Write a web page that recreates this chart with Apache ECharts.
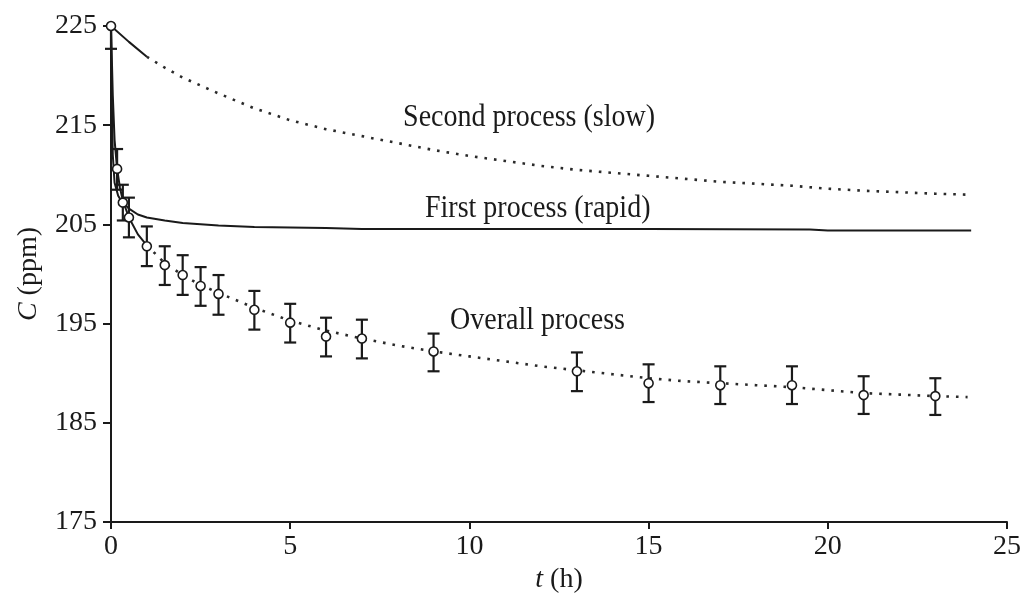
<!DOCTYPE html>
<html>
<head>
<meta charset="utf-8">
<script src="https://cdn.jsdelivr.net/npm/echarts@6/dist/echarts.min.js"></script>
<style>
  html, body { margin: 0; padding: 0; background: #fff; }
  #chart { width: 1024px; height: 599px; }
</style>
</head>
<body>
<div id="chart"></div>
<script>
// measured concentrations (circles with error bars)
const measT = [0, 0.17, 0.33, 0.5, 1, 1.5, 2, 2.5, 3, 4, 5, 6, 7, 9, 13, 15, 17, 19, 21, 23];
const measC = [225, 210.6, 207.2, 205.7, 202.8, 200.9, 199.9, 198.8, 198.0, 196.4, 195.1, 193.7, 193.5, 192.2, 190.2, 189.0, 188.8, 188.8, 187.8, 187.7];
const errUp = [0, 2.0, 1.8, 2.0, 2.0, 1.9, 2.0, 1.9, 1.9, 1.9, 1.9, 1.9, 1.9, 1.8, 1.9, 1.9, 1.9, 1.9, 1.9, 1.8];
const errDown = [2.3, 2.1, 1.8, 2.0, 2.0, 2.0, 2.0, 2.0, 2.1, 2.0, 2.0, 2.0, 2.0, 2.0, 2.0, 1.9, 1.9, 1.9, 1.9, 1.9];

// fitted curves
const overallT = [0, 0.05, 0.1, 0.17, 0.25, 0.33, 0.5, 0.75, 1, 1.5, 2, 2.5, 3, 4, 5, 6, 7, 8, 9, 10, 11, 12, 13, 14, 15, 16, 17, 18, 19, 20, 21, 22, 23, 23.9];
const overallC = [225, 218, 213.5, 210.6, 208.7, 207.4, 205.7, 204.0, 202.9, 201.1, 199.9, 198.9, 198.1, 196.6, 195.3, 194.3, 193.5, 192.8, 192.2, 191.7, 191.2, 190.7, 190.3, 189.9, 189.5, 189.2, 189.0, 188.8, 188.6, 188.3, 188.0, 187.85, 187.7, 187.6];

const rapidT = [0, 0.02, 0.05, 0.1, 0.2, 0.3, 0.5, 0.75, 1, 1.5, 2, 3, 4, 5, 6, 7, 10, 15, 19.5, 20, 24];
const rapidC = [225, 218, 212, 209.2, 207.9, 207.3, 206.6, 206.0, 205.7, 205.4, 205.15, 204.9, 204.75, 204.7, 204.65, 204.55, 204.55, 204.55, 204.5, 204.4, 204.4];

const slowT = [0, 0.5, 1, 1.5, 2, 3, 4, 5, 6, 7, 8, 9, 10, 11, 12, 13, 14, 15, 16, 17, 18, 19, 20, 21, 22, 23, 23.9];
const slowC = [225, 223.4, 221.9, 220.8, 219.8, 218.2, 216.7, 215.5, 214.6, 213.9, 213.2, 212.5, 211.9, 211.4, 210.9, 210.5, 210.2, 209.9, 209.6, 209.3, 209.1, 208.9, 208.6, 208.4, 208.25, 208.1, 208.0];

const xTicks = { min: 0, max: 25, interval: 5 };
const yTicks = { min: 175, max: 225, interval: 10 };

// curve labels, anchored in data space (left edge, middle)
const notes = [
  { text: 'Second process (slow)', t: 8.15, c: 215.8 },
  { text: 'First process (rapid)', t: 8.76, c: 206.6 },
  { text: 'Overall process', t: 9.46, c: 195.3 }
];

const FONT = '"Liberation Serif", "DejaVu Serif", serif';
const INK = '#1a1a1a';

const pairs = (ts, cs) => ts.map((t, i) => [t, cs[i]]);
// split a curve where it switches from solid to dotted
const splitAt = (ts, cs, tSplit) => {
  const all = pairs(ts, cs);
  const k = ts.findIndex(t => t >= tSplit);
  return [all.slice(0, k + 1), all.slice(k)];
};

const dotted = { color: '#2a2a2a', width: 2.6, type: [2.6, 7], cap: 'butt' };
const solid = { color: INK, width: 2 };

const [slowHead, slowTail] = splitAt(slowT, slowC, 1);
const [overHead, overTail] = splitAt(overallT, overallC, 1);

const chart = echarts.init(document.getElementById('chart'));

const lineSeries = (data, style) => ({
  type: 'line', data, showSymbol: false, symbol: 'none',
  lineStyle: style, silent: true, animation: false, z: 2
});

chart.setOption({
  backgroundColor: '#fff',
  animation: false,
  grid: { left: 111, right: 17, top: 26, bottom: 73 },
  xAxis: {
    type: 'value', ...xTicks,
    name: '{i|t} (h)',
    nameLocation: 'middle', nameGap: 40,
    nameTextStyle: {
      fontFamily: FONT, fontSize: 28, color: INK,
      rich: { i: { fontFamily: FONT, fontSize: 28, fontStyle: 'italic', color: INK } }
    },
    axisLine: { onZero: false, lineStyle: { color: INK, width: 2 } },
    axisTick: { show: true, inside: false, length: 7, lineStyle: { color: INK, width: 2 } },
    axisLabel: { fontFamily: FONT, fontSize: 28, color: INK, margin: 11 },
    splitLine: { show: false }
  },
  yAxis: {
    type: 'value', ...yTicks,
    name: '{i|C} (ppm)',
    nameLocation: 'middle', nameGap: 68, nameRotate: 90,
    nameTextStyle: {
      fontFamily: FONT, fontSize: 28, color: INK,
      rich: { i: { fontFamily: FONT, fontSize: 28, fontStyle: 'italic', color: INK } }
    },
    axisLine: { show: true, onZero: false, lineStyle: { color: INK, width: 2 } },
    axisTick: { show: true, inside: false, length: 8, lineStyle: { color: INK, width: 2 } },
    axisLabel: { fontFamily: FONT, fontSize: 28, color: INK, margin: 14 },
    splitLine: { show: false }
  },
  series: [
    lineSeries(slowHead, solid),
    lineSeries(slowTail, dotted),
    lineSeries(pairs(rapidT, rapidC), solid),
    lineSeries(overHead, solid),
    lineSeries(overTail, dotted),
    {
      type: 'custom',
      data: measT.map((t, i) => [t, measC[i], errUp[i], errDown[i]]),
      clip: false,
      silent: true,
      z: 3,
      renderItem: (params, api) => {
        const t = api.value(0), c = api.value(1);
        const up = api.value(2), dn = api.value(3);
        const top = api.coord([t, c + up]);
        const bot = api.coord([t, c - dn]);
        const w = 6;
        const st = { stroke: INK, lineWidth: 2.2 };
        const kids = [
          { type: 'line', shape: { x1: top[0], y1: top[1], x2: bot[0], y2: bot[1] }, style: st },
          { type: 'line', shape: { x1: bot[0] - w, y1: bot[1], x2: bot[0] + w, y2: bot[1] }, style: st }
        ];
        if (up > 0) {
          kids.push({ type: 'line', shape: { x1: top[0] - w, y1: top[1], x2: top[0] + w, y2: top[1] }, style: st });
        }
        return { type: 'group', children: kids };
      }
    },
    {
      type: 'scatter',
      data: pairs(measT, measC),
      symbol: 'circle',
      symbolSize: 9,
      itemStyle: { color: '#fff', opacity: 1, borderColor: INK, borderWidth: 1.6 },
      silent: true,
      z: 4
    }
  ]
});

// place the curve notes through the chart's own coordinate system
chart.setOption({
  graphic: notes.map(n => {
    const p = chart.convertToPixel({ gridIndex: 0 }, [n.t, n.c]);
    return {
      type: 'text', x: p[0], y: p[1], scaleY: 1.12, silent: true,
      style: {
        text: n.text, fill: INK, font: '28px ' + FONT,
        textAlign: 'left', textVerticalAlign: 'middle'
      }
    };
  })
});
</script>
</body>
</html>
